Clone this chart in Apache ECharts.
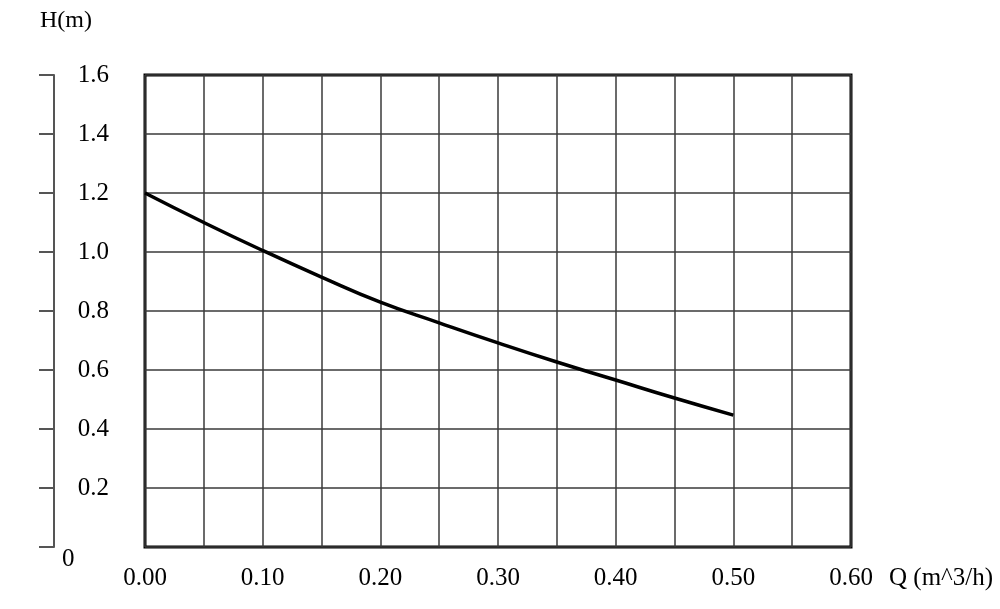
<!DOCTYPE html>
<html><head><meta charset="utf-8">
<script src="https://cdn.jsdelivr.net/npm/echarts@6/dist/echarts.min.js"></script>
<style>html,body{margin:0;padding:0;background:#fff}#c{width:1000px;height:609px}</style>
</head><body><div id="c"></div>
<script>
const flowQ = [0, 0.05, 0.10, 0.15, 0.20, 0.25, 0.30, 0.35, 0.40, 0.45, 0.50];
const headH = [1.20, 1.10, 1.005, 0.915, 0.83, 0.76, 0.692, 0.627, 0.566, 0.505, 0.447];
const xAxisName = 'Q (m^3/h)';
const yAxisName = 'H(m)';

const font = 'Liberation Serif';
const fs = 25;
const chart = echarts.init(document.getElementById('c'), null, {renderer: 'canvas'});
chart.setOption({
  backgroundColor: '#fff',
  animation: false,
  grid: {left: 145, right: 149, top: 75, bottom: 62, show: true, borderColor: '#000', borderWidth: 3, backgroundColor: 'transparent'},
  xAxis: {
    type: 'value', min: 0, max: 0.6, interval: 0.05,
    axisLine: {show: false}, axisTick: {show: false},
    splitLine: {show: true, lineStyle: {color: '#3a3a3a', width: 1.5}},
    axisLabel: {
      margin: 19, color: '#000', fontFamily: font, fontSize: fs,
      formatter: v => (Math.round(v * 100) % 10 === 0) ? v.toFixed(2) : ''
    },
    name: xAxisName, nameLocation: 'end', nameGap: 38,
    nameTextStyle: {color: '#000', fontFamily: font, fontSize: fs, verticalAlign: 'top', padding: [19, 0, 0, 0]}
  },
  yAxis: [{
    type: 'value', min: 0, max: 1.6, interval: 0.2,
    axisLine: {show: false}, axisTick: {show: false},
    splitLine: {show: true, lineStyle: {color: '#3a3a3a', width: 1.5}},
    axisLabel: {
      margin: 36, color: '#000', fontFamily: font, fontSize: fs,
      formatter: v => v === 0 ? '' : v.toFixed(1)
    }
  }, {
    type: 'value', min: 0, max: 1.6, interval: 0.2, position: 'left', offset: 91,
    axisLine: {show: true, lineStyle: {color: '#555', width: 2}},
    axisTick: {show: true, length: 15, lineStyle: {color: '#555', width: 2}},
    splitLine: {show: false},
    axisLabel: {
      inside: true, margin: 8, verticalAlign: 'top', color: '#000', fontFamily: font, fontSize: fs,
      formatter: v => v === 0 ? '0' : ''
    },
    name: yAxisName, nameLocation: 'end', nameGap: 42,
    nameTextStyle: {color: '#000', fontFamily: font, fontSize: 24, align: 'left', padding: [0, 0, 0, -14]}
  }],
  series: [{
    type: 'line', smooth: true, showSymbol: false, yAxisIndex: 0,
    data: flowQ.map((q, i) => [q, headH[i]]),
    lineStyle: {color: '#000', width: 3.5}
  }]
});
</script></body></html>
